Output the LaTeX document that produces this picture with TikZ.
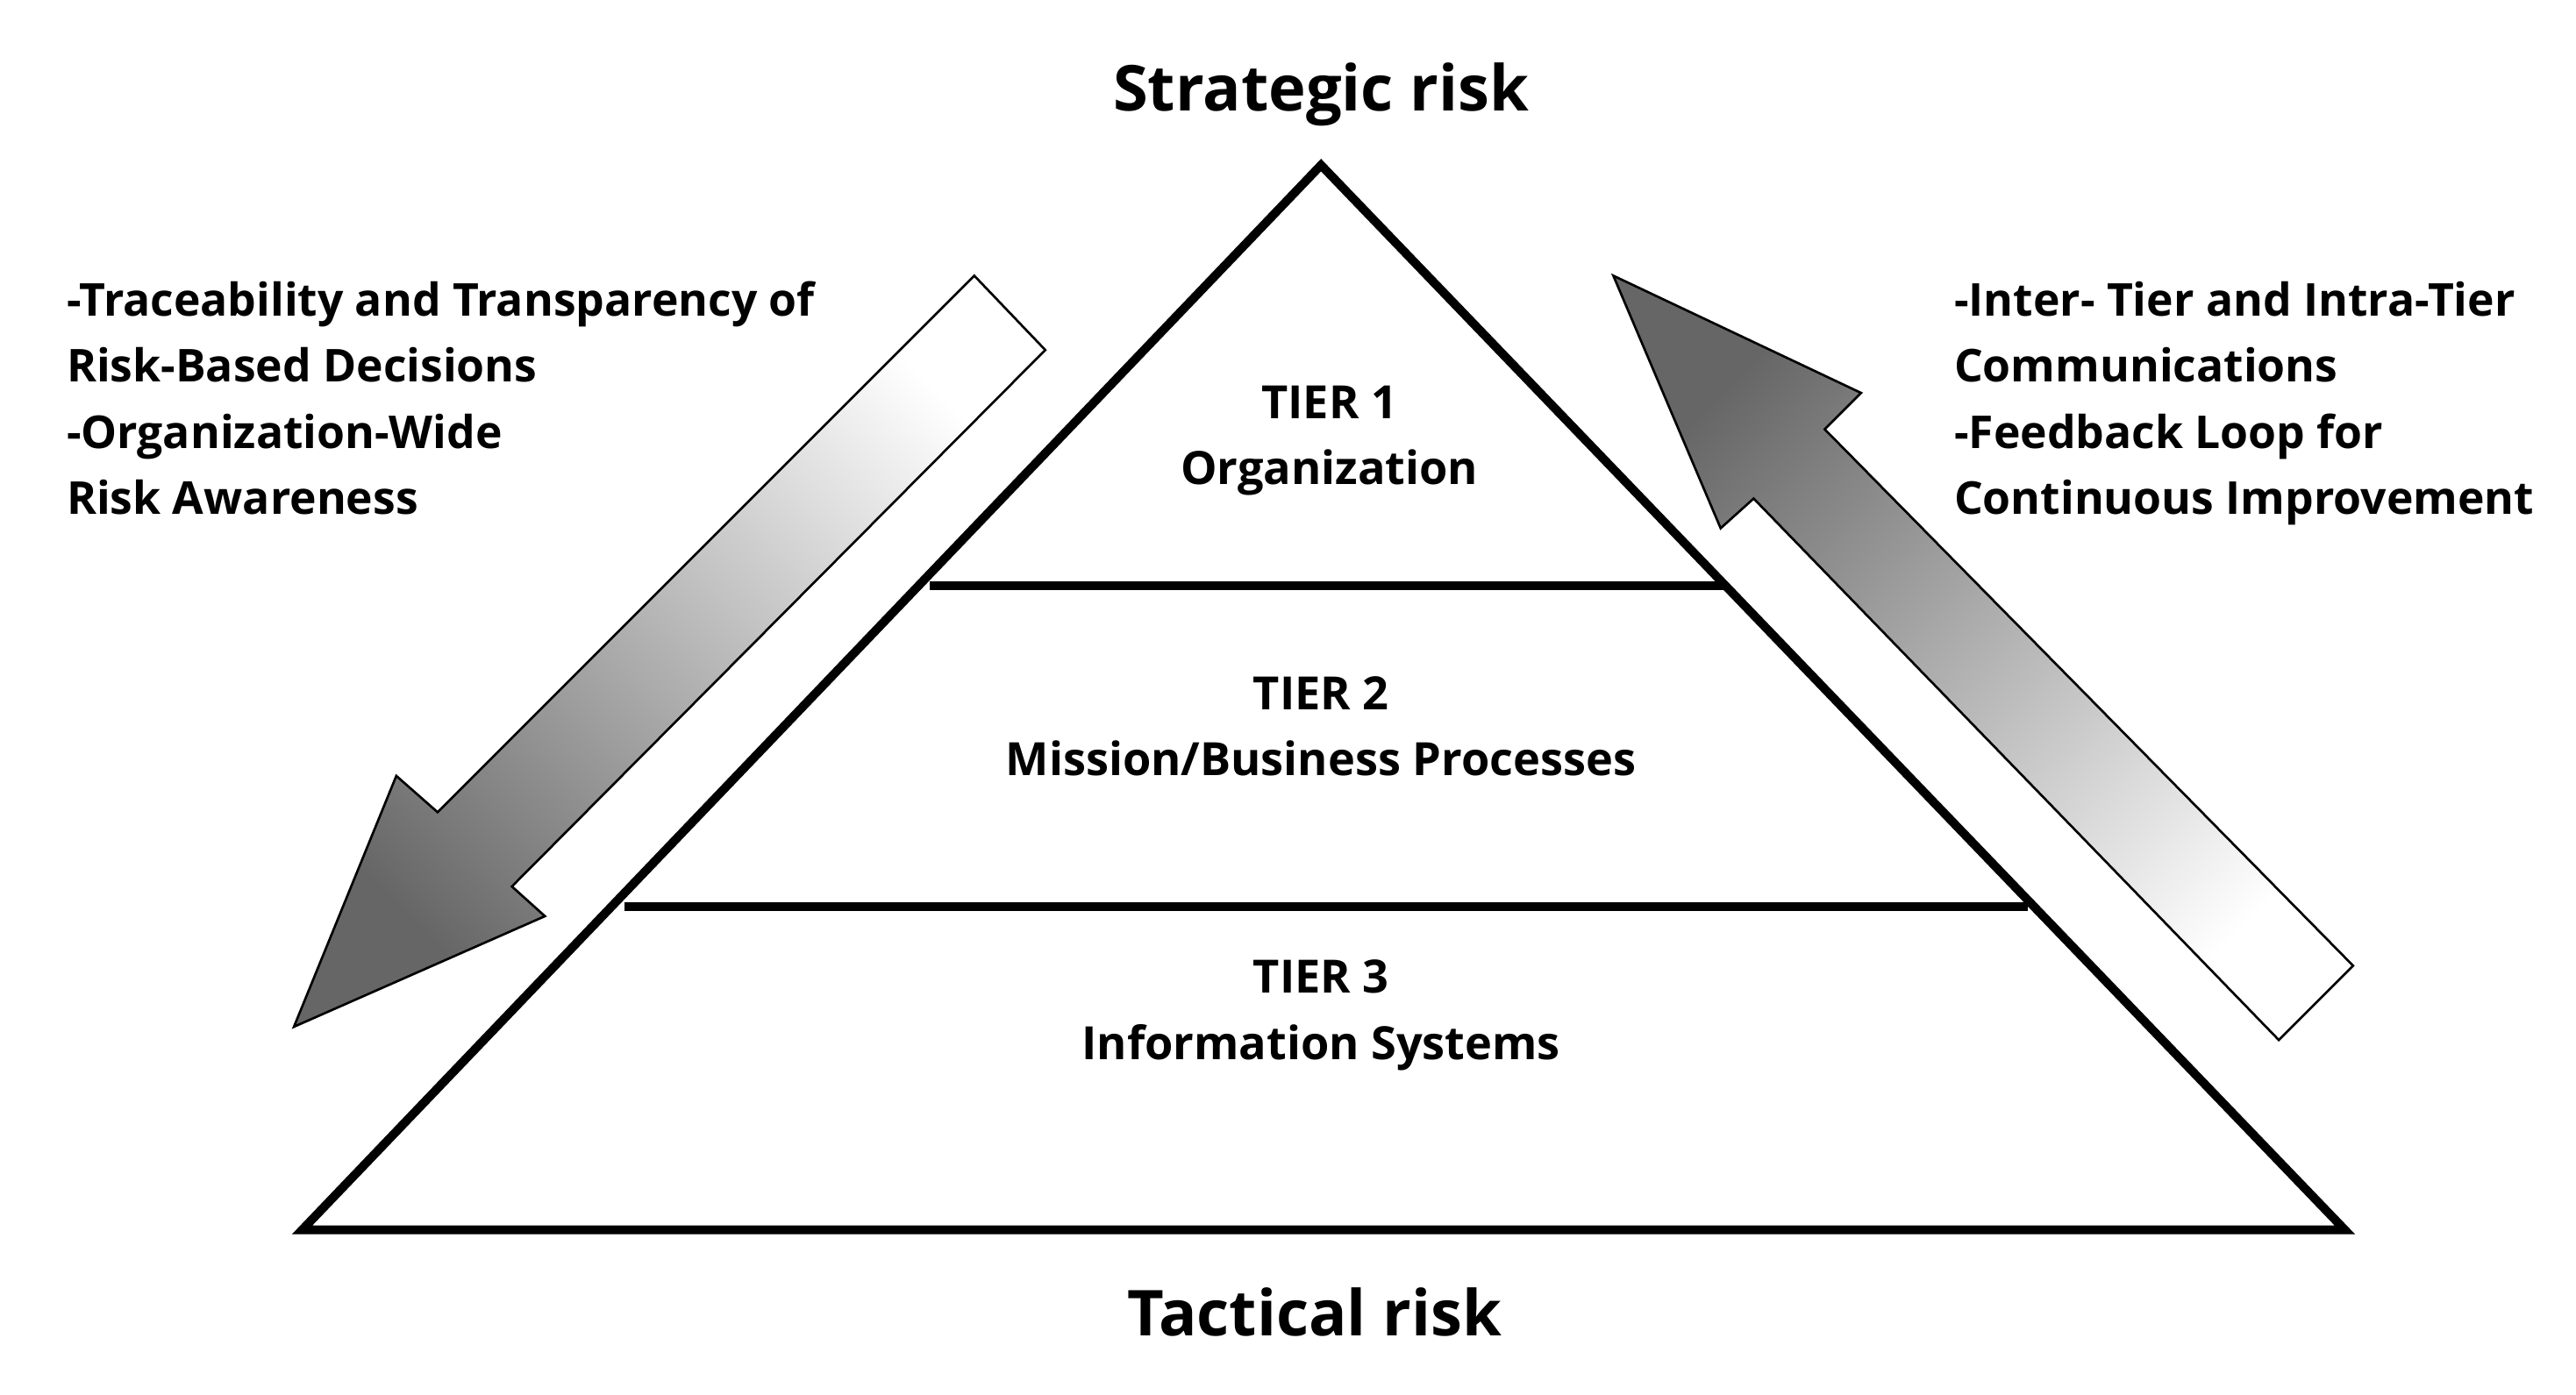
\documentclass[tikz,border=0pt]{standalone}
\usepackage{fontspec}
\setmainfont{Open Sans}
\begin{document}
\begin{tikzpicture}[x=0.01cm,y=-0.01cm]
\useasboundingbox (0,0) rectangle (1560,845);
\tikzset{tier/.style={font=\fontsize{7.9}{11.4}\selectfont\bfseries, align=center},
         side/.style={font=\fontsize{7.8}{11.4}\selectfont\bfseries, align=left, anchor=north west},
         risk/.style={font=\fontsize{10.9}{14}\selectfont\bfseries}}
% pyramid
\coordinate (top) at (800,100);
\coordinate (bl) at (183,745);
\coordinate (br) at (1420,745);
\coordinate (a1) at (563,355);
\coordinate (b1) at (1045,355);
\coordinate (a2) at (378,549);
\coordinate (b2) at (1228,549);
\draw[line width=1.5pt, line join=miter] (top) -- (br) -- (bl) -- cycle;
\draw[line width=1.5pt] (a1) -- (b1);
\draw[line width=1.5pt] (a2) -- (b2);
\node[tier] (t1) at (805,267) {TIER 1\\Organization};
\node[tier] (t2) at (800,440) {TIER 2\\Mission/Business Processes};
\node[tier] (t3) at (800,615) {TIER 3\\Information Systems};
\node[risk] (strat) at (800,57) {Strategic risk};
\node[risk] (tact) at (796,795) {Tactical risk};
% arrows
\shadedraw[draw=black, thin, top color=white, bottom color=gray!80!black, shading angle=-45]
  (590,167) -- (633,212) -- (310,537) -- (330,555) -- (178,622) -- (240,470) -- (265,492) -- cycle;
\shadedraw[draw=black, thin, top color=gray!80!black, bottom color=white, shading angle=45]
  (977,167) -- (1127,238) -- (1105,260) -- (1425,585) -- (1380,630) -- (1062,302) -- (1042,320) -- cycle;
\node[side] (lefttxt) at (28,158) {-Traceability and Transparency of\\Risk-Based Decisions\\-Organization-Wide\\Risk Awareness};
\node[side] (righttxt) at (1171,158) {-Inter- Tier and Intra-Tier\\Communications\\-Feedback Loop for\\Continuous Improvement};
\end{tikzpicture}
\end{document}
